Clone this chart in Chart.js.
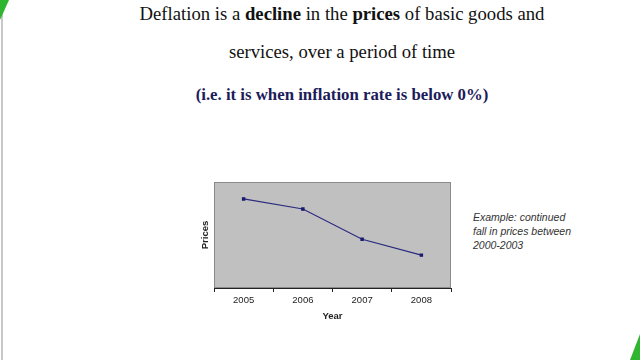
<!DOCTYPE html>
<html><head><meta charset="utf-8">
<script src="https://cdn.jsdelivr.net/npm/chart.js@4.4.1/dist/chart.umd.min.js"></script>
<style>
html,body{margin:0;padding:0;background:#fff;}
body{width:640px;height:360px;position:relative;overflow:hidden;font-family:"Liberation Serif","Times New Roman",serif;}
.l{position:absolute;left:0;width:684px;text-align:center;color:#111;white-space:nowrap;}
#t1{top:3px;font-size:18.7px;}
#t2{top:41px;font-size:18.7px;}
#t3{top:85px;font-size:16.8px;font-weight:bold;color:#1c1c5a;}
#note{position:absolute;left:473px;top:210px;font-family:"Liberation Sans",Arial,sans-serif;font-style:italic;font-size:10.5px;line-height:14px;color:#333;}
#lbar{position:absolute;left:1px;top:0;width:2px;height:360px;background:#c8c8c8;}
#tl{position:absolute;left:0;top:0;width:0;height:0;border-top:20px solid #2fb52f;border-right:9px solid transparent;}
#br{position:absolute;right:0;bottom:0;width:0;height:0;border-bottom:26px solid #2fb52f;border-left:10px solid transparent;}
#wrap{position:absolute;left:180px;top:170px;width:280px;height:160px;}
</style></head>
<body>
<div id="lbar"></div><div id="tl"></div><div id="br"></div>
<div class="l" id="t1">Deflation is a <b>decline</b> in the <b>prices</b> of basic goods and</div>
<div class="l" id="t2">services, over a period of time</div>
<div class="l" id="t3">(i.e. it is when inflation rate is below 0%)</div>
<div id="note">Example: continued<br>fall in prices between<br>2000-2003</div>
<div id="wrap"><canvas id="c" width="280" height="160"></canvas></div>
<script>
const years = ['2005','2006','2007','2008'];
const prices = [84, 74.5, 46, 31];
const xTitle = 'Year';
const yTitle = 'Prices';

const bgPlugin = {
  id:'plotbg',
  beforeDraw(chart){
    const a = chart.chartArea, ctx = chart.ctx;
    ctx.save();
    ctx.fillStyle = '#c0c0c0';
    ctx.fillRect(a.left, a.top, a.right-a.left, a.bottom-a.top);
    ctx.strokeStyle = '#8a8a8a';
    ctx.lineWidth = 1;
    ctx.strokeRect(a.left+0.5, a.top+0.5, a.right-a.left-1, a.bottom-a.top-1);
    ctx.restore();
  }
};

new Chart(document.getElementById('c'), {
  type:'line',
  data:{labels:years, datasets:[{data:prices, borderColor:'#2a2a80', borderWidth:1.2, pointStyle:'rect', pointRadius:1.6, pointBackgroundColor:'#1a1a70', pointBorderColor:'#1a1a70', tension:0}]},
  options:{
    responsive:false, animation:false,
    layout:{padding:{top:12,right:9,left:0,bottom:0}},
    plugins:{legend:{display:false}, tooltip:{enabled:false}},
    scales:{
      x:{
        offset:true,
        grid:{display:true, offset:true, drawOnChartArea:false, drawTicks:true, tickLength:4, color:'#222'},
        border:{display:true, color:'#222', width:1},
        ticks:{font:{family:'Liberation Sans', size:9.5}, color:'#222', padding:3, maxRotation:0},
        title:{display:true, text:xTitle, font:{family:'Liberation Sans', size:9.5, weight:'bold'}, color:'#222', padding:{top:2,bottom:8}},
        afterFit(s){ s.height = 42; }
      },
      y:{
        min:0, max:100,
        grid:{display:false},
        border:{display:false},
        ticks:{display:false},
        title:{display:true, text:yTitle, font:{family:'Liberation Sans', size:9.5, weight:'bold'}, color:'#222', padding:{top:20,bottom:0}},
        afterFit(s){ s.width = 34; }
      }
    }
  },
  plugins:[bgPlugin]
});
</script>
</body></html>
